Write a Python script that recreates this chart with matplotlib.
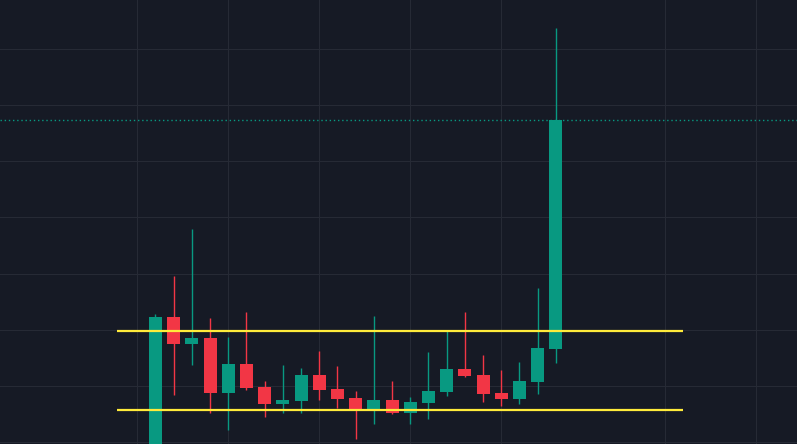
"""
Candlestick chart: range breakout with support/resistance lines, dark theme.
"""
import matplotlib
matplotlib.use("Agg")
import matplotlib.pyplot as plt
import numpy as np

# OHLC per candle (price units)
opens = [1.1300, 1.3113, 1.2873, 1.2926, 1.2436, 1.2695, 1.2490, 1.2338,
         1.2365, 1.2597, 1.2472, 1.2392, 1.2276, 1.2374, 1.2258, 1.2347,
         1.2445, 1.2650, 1.2597, 1.2436, 1.2383, 1.2534, 1.2828]
highs = [1.3140, 1.3478, 1.3897, 1.3104, 1.2935, 1.3158, 1.2543, 1.2686,
         1.2659, 1.2810, 1.2677, 1.2454, 1.3122, 1.2543, 1.2401, 1.2802,
         1.2997, 1.3158, 1.2775, 1.2641, 1.2712, 1.3372, 1.5687]
lows = [1.1100, 1.2421, 1.2686, 1.2258, 1.2107, 1.2463, 1.2223, 1.2258,
        1.2258, 1.2374, 1.2303, 1.2027, 1.2160, 1.2249, 1.2160, 1.2205,
        1.2410, 1.2579, 1.2356, 1.2321, 1.2338, 1.2427, 1.2704]
closes = [1.3116, 1.2873, 1.2926, 1.2436, 1.2695, 1.2481, 1.2338, 1.2374,
          1.2597, 1.2463, 1.2383, 1.2276, 1.2374, 1.2258, 1.2356, 1.2454,
          1.2650, 1.2588, 1.2427, 1.2383, 1.2543, 1.2837, 1.4863]

# range levels
resistance = 1.2991
support = 1.2285
level_start, level_end = -2.1, 29.0

# grid positions
x_grid = [-1, 4, 9, 14, 19, 28, 33]
y_grid = [1.20, 1.25, 1.30, 1.35, 1.40, 1.45, 1.50, 1.55]

BG = "#161a25"
GRID = "#262a35"
UP = "#089981"
DOWN = "#f23645"
LEVEL = "#ffeb3b"

fig = plt.figure(figsize=(7.97, 4.44), dpi=100, facecolor=BG)
ax = fig.add_axes([0, 0, 1, 1])
ax.set_facecolor(BG)

o = np.array(opens)
h = np.array(highs)
l = np.array(lows)
c = np.array(closes)
x = np.arange(len(o))
colors = np.where(c >= o, UP, DOWN)

for gx in x_grid:
    ax.axvline(gx, color=GRID, lw=0.8, zorder=0)
for gy in y_grid:
    ax.axhline(gy, color=GRID, lw=0.8, zorder=0)

# wicks + bodies
ax.vlines(x, l, h, colors=colors, lw=1.0, zorder=2)
ax.bar(x, np.abs(c - o), bottom=np.minimum(o, c), width=0.72,
       color=colors, edgecolor="none", zorder=3)

# support / resistance
ax.hlines([resistance, support], level_start, level_end,
          colors=LEVEL, lw=1.6, zorder=4)

# last price line
ax.axhline(c[-1], color=UP, lw=1.0, ls=(0, (1, 2)), zorder=1)

ax.set_xlim(-8.544, 35.25)
ax.set_ylim(1.1982, 1.5936)
ax.set_xticks([])
ax.set_yticks([])
for s in ax.spines.values():
    s.set_visible(False)

fig.savefig("out.png", dpi=100, facecolor=BG)
